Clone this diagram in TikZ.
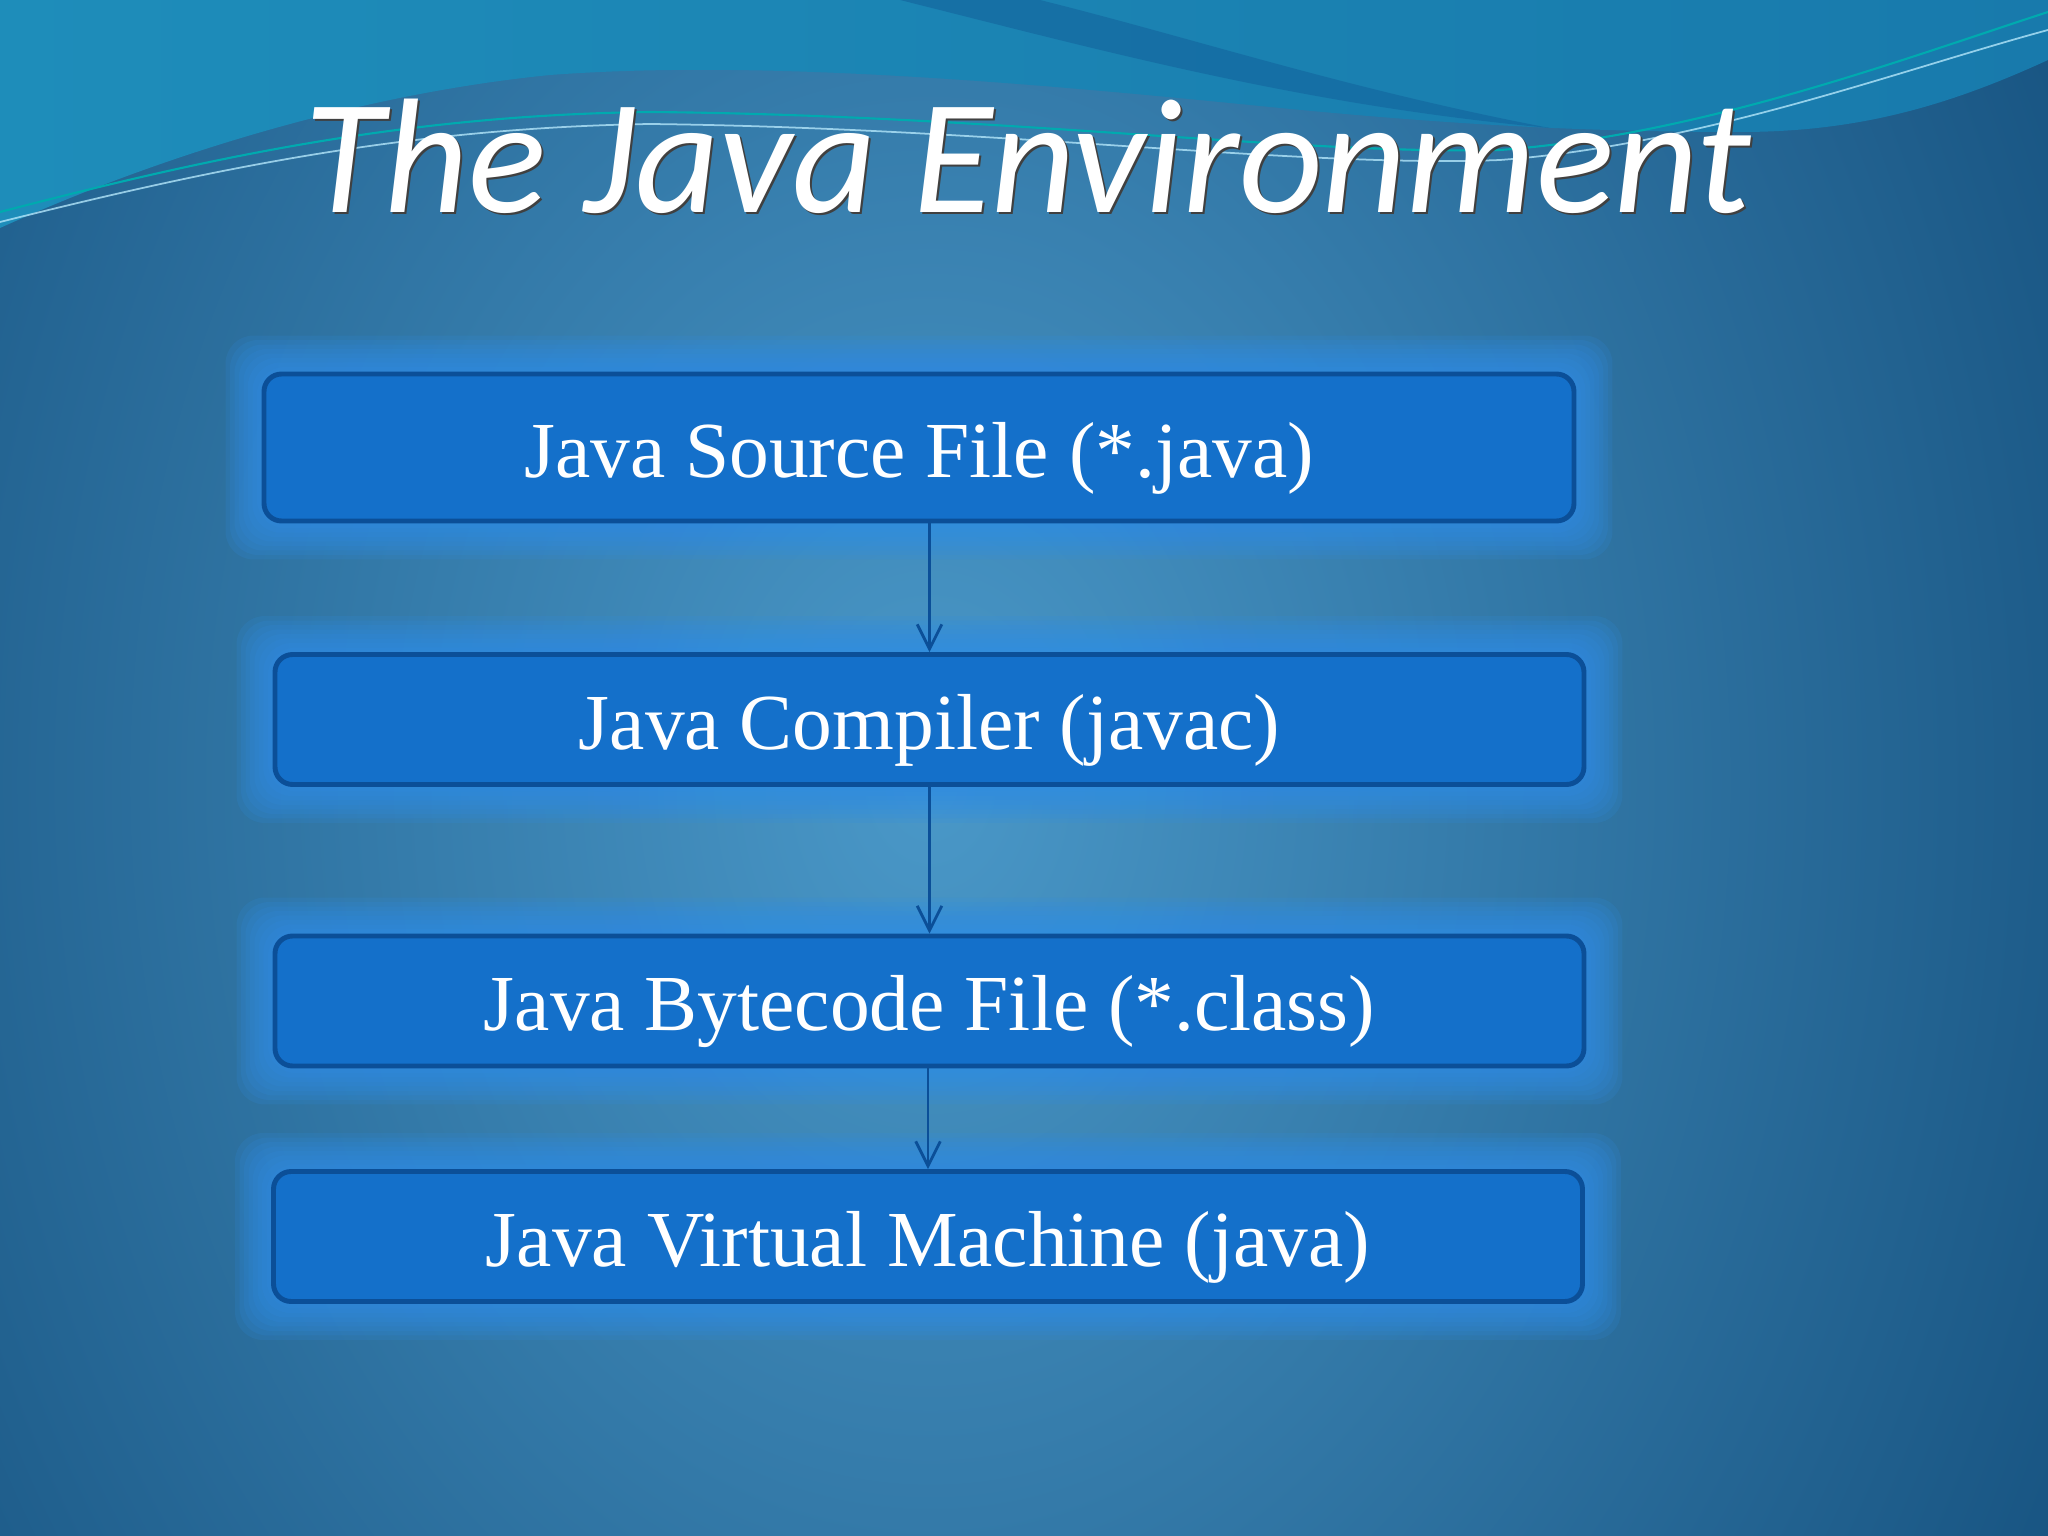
\documentclass[tikz,border=0pt]{standalone}
\usepackage{fontspec}
\setmainfont{Liberation Serif}
\newfontfamily\titlefont{Carlito}
\usetikzlibrary{arrows.meta,calc}

\definecolor{bgdark}{HTML}{0B4370}
\definecolor{bglight}{HTML}{4A98C8}
\definecolor{waveteal}{HTML}{1E8DBA}
\definecolor{wavemid}{HTML}{187AAC}
\definecolor{swoosh}{HTML}{1468A0}
\definecolor{boxfill}{HTML}{1470CA}
\definecolor{boxline}{HTML}{0B4F98}
\definecolor{glowc}{HTML}{2E8DE6}

\pgfdeclarelayer{bg}
\pgfdeclarelayer{glow}
\pgfsetlayers{bg,glow,main}

\tikzset{
  stagebox/.style={draw=boxline, line width=1.4pt, fill=boxfill,
    rounded corners=5pt, minimum width=13.09cm, minimum height=1.30cm,
    text=white, font=\fontsize{22.6}{26}\selectfont, inner sep=0pt,
    text height=17pt, text depth=0pt},
  flow/.style={draw=boxline, line width=0.8pt, -{Straight Barb[length=7pt,width=7pt]}},
}

\begin{document}
\begin{tikzpicture}
    \useasboundingbox (0,0) rectangle (20.48,-15.36);

    % the four stages
    \node[stagebox, minimum width=13.10cm, minimum height=1.47cm] (src) at (9.19,-4.475) {Java Source File (*.java)};
    \node[stagebox] (cmp) at (9.295,-7.195) {Java Compiler (javac)};
    \node[stagebox] (byt) at (9.295,-10.01) {Java Bytecode File (*.class)};
    \node[stagebox] (jvm) at (9.28,-12.365) {Java Virtual Machine (java)};

    \draw[flow] (src.south -| cmp.north) -- (cmp.north);
    \draw[flow] (cmp.south) -- (byt.north);
    \draw[flow] (byt.south -| jvm.north) -- (jvm.north);

    % background and top wave
    \begin{pgfonlayer}{bg}
    \fill[bgdark] (0,0) rectangle (20.48,-15.36);
    \shade[inner color=bglight, outer color=bgdark] (9.3,-7.8) ellipse (16 and 21);
    \shade[left color=waveteal, right color=wavemid] (0,0) -- (20.48,0) -- (20.48,-0.6)
      .. controls (19.5,-1.05) and (18.6,-1.32) .. (17.4,-1.32)
      .. controls (15.5,-1.32) and (14,-1.2) .. (12.5,-1.05)
      .. controls (10,-0.8) and (7.5,-0.6) .. (5.5,-0.75)
      .. controls (3.5,-0.95) and (1.5,-1.6) .. (0,-2.28) -- cycle;
    \fill[swoosh, opacity=0.7] (9.0,0) .. controls (11,-0.5) and (13,-1.05) .. (15.5,-1.28)
      .. controls (13.5,-0.9) and (12,-0.4) .. (10.4,0) -- cycle;
    \draw[cyan!60!green, line width=0.6pt] (0,-2.12) .. controls (2,-1.6) and (4,-1.15) .. (6.5,-1.12)
      .. controls (10,-1.15) and (13,-1.55) .. (15,-1.5)
      .. controls (17,-1.35) and (19,-0.6) .. (20.48,-0.12);
    \draw[white!70!cyan, line width=0.5pt, opacity=0.8] (0,-2.22) .. controls (2,-1.72) and (4,-1.28) .. (6.5,-1.24)
      .. controls (10,-1.28) and (13,-1.68) .. (15,-1.6)
      .. controls (17,-1.45) and (19,-0.7) .. (20.48,-0.3);
    \end{pgfonlayer}

    % glow round the boxes
    \begin{pgfonlayer}{glow}
    \foreach \b in {src,cmp,byt,jvm} {
      \foreach \g in {1,...,8} {
        \fill[glowc, opacity=0.16, rounded corners=8pt]
          ($(\b.south west)+(-\g*0.045,-\g*0.045)$) rectangle ($(\b.north east)+(\g*0.045,\g*0.045)$);
      }
    }
    \end{pgfonlayer}

    % title
    \node[text=black!75, font=\titlefont\itshape\fontsize{46.5}{52}\selectfont] (ttlshadow) at (10.30,-1.58) {The Java Environment};
    \node[text=white, font=\titlefont\itshape\fontsize{46.5}{52}\selectfont] (ttl) at (10.28,-1.56) {The Java Environment};

\end{tikzpicture}
\end{document}
